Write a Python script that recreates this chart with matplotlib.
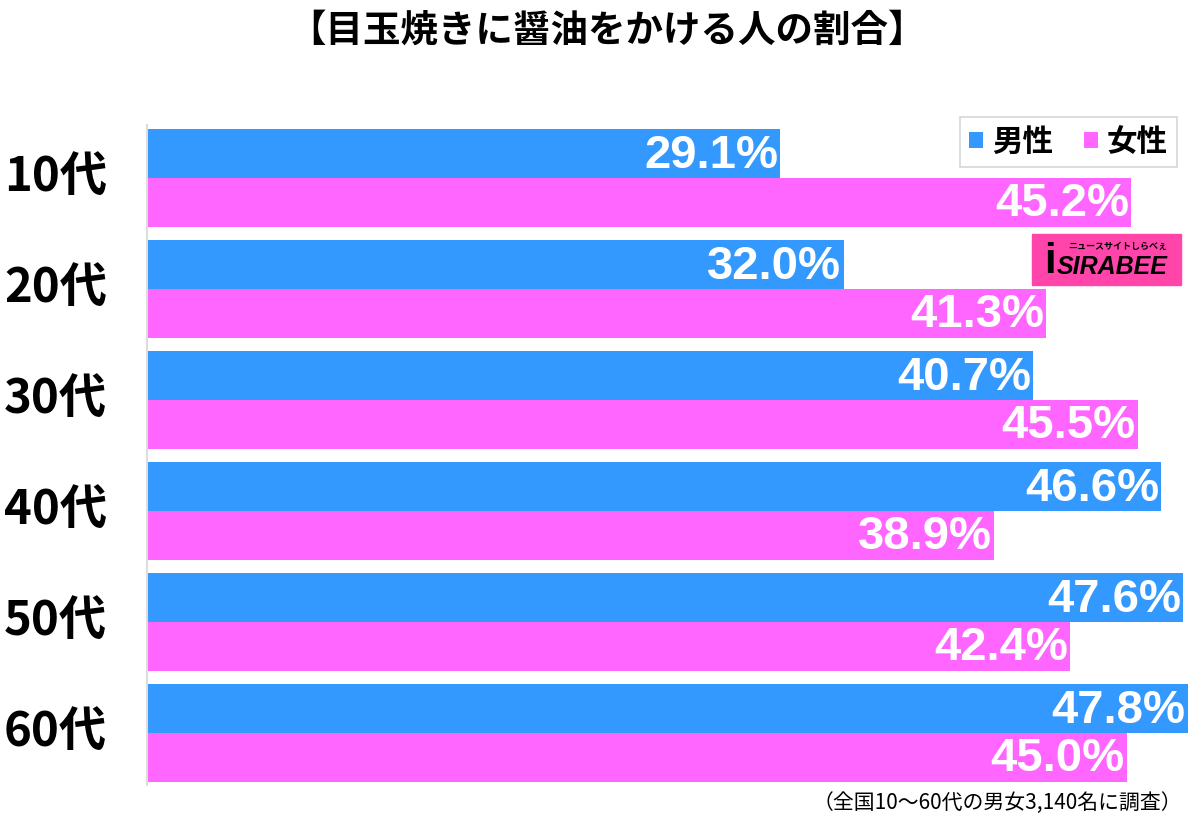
import matplotlib
matplotlib.use("Agg")
import matplotlib.pyplot as plt
import matplotlib.transforms as mtransforms
from matplotlib.patches import Rectangle
import numpy as np

categories = ["10代", "20代", "30代", "40代", "50代", "60代"]
male = [29.1, 32.0, 40.7, 46.6, 47.6, 47.8]
female = [45.2, 41.3, 45.5, 38.9, 42.4, 45.0]
series_names = ["男性", "女性"]
title = "【目玉焼きに醤油をかける人の割合】"
footer = "（全国10～60代の男女3,140名に調査）"

BLUE = "#3399FF"
PINK = "#FF66FF"
JP = ["Noto Sans CJK JP", "DejaVu Sans"]
NUM = ["Liberation Sans Narrow", "Liberation Sans", "DejaVu Sans"]

fig = plt.figure(figsize=(12, 8.24), dpi=100)
ax = fig.add_axes([147/1200, (824-785)/824, 1 - 147/1200, (785-125)/824])

y = np.arange(len(categories))
h = 0.44
ax.barh(y - h/2, male, height=h, color=BLUE, label=series_names[0])
ax.barh(y + h/2, female, height=h, color=PINK, label=series_names[1])

ax.set_xlim(0, 48.37)
ax.set_ylim(5.47, -0.476)
for s in ["top", "right", "bottom"]:
    ax.spines[s].set_visible(False)
ax.spines["left"].set_color("#dddddd")
ax.spines["left"].set_linewidth(1.5)
ax.set_xticks([])
ax.set_yticks([])

for i in range(len(categories)):
    ax.text(male[i] - 0.1, i - h/2 + 0.02, f"{male[i]:.1f}%", ha="right", va="center",
            color="white", fontsize=34, fontweight="bold", family=NUM)
    ax.text(female[i] - 0.1, i + h/2 + 0.02, f"{female[i]:.1f}%", ha="right", va="center",
            color="white", fontsize=34, fontweight="bold", family=NUM)

tr = mtransforms.blended_transform_factory(fig.transFigure, ax.transData)
for i, c in enumerate(categories):
    ax.text(4/1200, i, c, transform=tr, ha="left", va="center", fontsize=34,
            fontweight="bold", family=JP, color="black")

fig.text(607/1200, 1 - 30/824, title, ha="center", va="center", fontsize=27,
         fontweight="bold", family=JP)
fig.text(1182/1200, 1 - 803/824, footer, ha="right", va="center", fontsize=15,
         family=JP)

leg = ax.legend(loc="upper right", bbox_to_anchor=(1177/1200, 1 - 117/824),
                bbox_transform=fig.transFigure, ncol=2, frameon=True,
                prop={"family": JP, "size": 22, "weight": "bold"},
                handlelength=0.45, handleheight=0.45, handletextpad=0.3,
                columnspacing=1.0, borderpad=0.3, borderaxespad=0, fancybox=False)
leg.get_frame().set_edgecolor("#cccccc")
leg.get_frame().set_linewidth(1.2)

# logo
fig.patches.append(Rectangle((1032/1200, 1 - 285/824), 149/1200, 51/824,
                             transform=fig.transFigure, color="#FF44AA", zorder=5))
fig.text(1112/1200, 1 - 267/824, "SIRABEE", ha="center", va="center", fontsize=18,
         fontweight="bold", style="italic", family=NUM, color="black", zorder=6)
fig.text(1118/1200, 1 - 246/824, "ニュースサイトしらべぇ", ha="center", va="center",
         fontsize=6.5, fontweight="bold", family=JP, color="black", zorder=6)
fig.text(1050/1200, 1 - 262/824, "i", ha="center", va="center", fontsize=30,
         fontweight="bold", family=NUM, color="black", zorder=6)

fig.savefig("out.png", dpi=100, facecolor="white")
